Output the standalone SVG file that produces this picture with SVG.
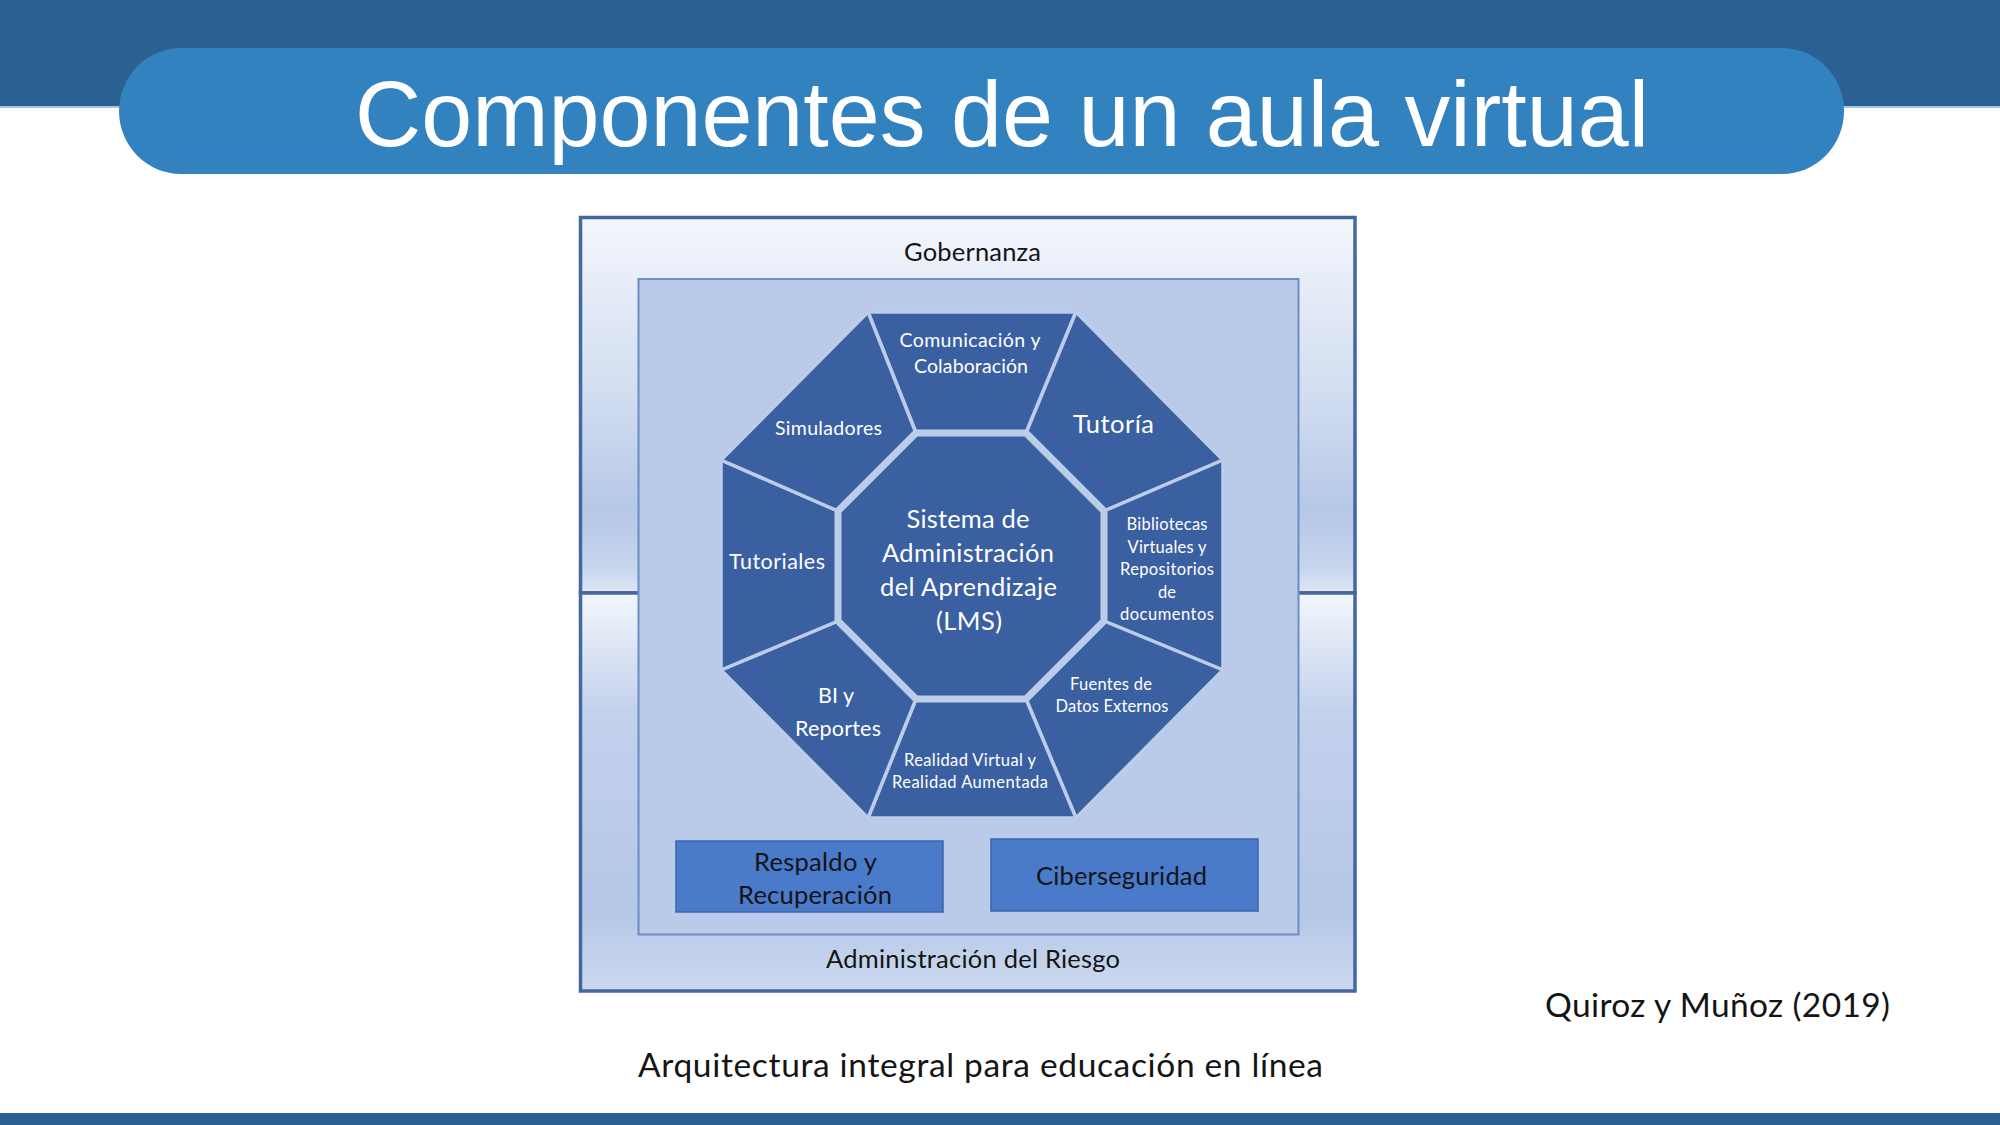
<svg xmlns="http://www.w3.org/2000/svg" width="2000" height="1125" viewBox="0 0 2000 1125">
<defs>
<linearGradient id="gTop" x1="0" y1="0" x2="0" y2="1">
<stop offset="0" stop-color="#f3f6fc"/>
<stop offset="0.45" stop-color="#d3def1"/>
<stop offset="0.78" stop-color="#b6c8e7"/>
<stop offset="0.93" stop-color="#c6d4ed"/>
<stop offset="1" stop-color="#dfe7f5"/>
</linearGradient>
<linearGradient id="gBot" x1="0" y1="0" x2="0" y2="1">
<stop offset="0" stop-color="#f3f6fc"/>
<stop offset="0.3" stop-color="#c2d1ec"/>
<stop offset="0.8" stop-color="#b5c7e7"/>
<stop offset="1" stop-color="#ccd9ef"/>
</linearGradient>
<style>
.seg{fill:#3a60a2;stroke:#bccdea;stroke-width:3.5;stroke-linejoin:round}
.core{fill:#3a60a2;stroke:#bccdea;stroke-width:7;stroke-linejoin:round}
.w{fill:#ffffff;font-family:Lato,"Open Sans","Liberation Sans",sans-serif;text-anchor:middle}
.k{fill:#141414;font-family:Lato,"Open Sans","Liberation Sans",sans-serif;text-anchor:middle}
.box{fill:#4a7aca;stroke:#3c66aa;stroke-width:1.5}
.frame{stroke:#44679f;stroke-width:3.5}
</style>
</defs>

<g id="header">
<rect x="0" y="0" width="2000" height="107" fill="#2a6192"/>
<rect x="0" y="106" width="2000" height="2" fill="#a9c4e0"/>
<rect x="119" y="48" width="1725" height="126" rx="62" ry="63" fill="#3382c0"/>
<text x="1002" y="146" font-family="'Liberation Sans',Arial,sans-serif" font-size="92" fill="#ffffff" text-anchor="middle" textLength="1294" lengthAdjust="spacingAndGlyphs">Componentes de un aula virtual</text>
</g>

<g id="footer-bar">
<rect x="0" y="1113" width="2000" height="12" fill="#2a6192"/>
</g>

<g id="gobernanza">
<rect class="frame" x="580.5" y="217.5" width="774.5" height="375.5" fill="url(#gTop)"/>
<text class="k" x="972.5" y="261" font-size="25.5" textLength="137">Gobernanza</text>
</g>

<g id="administracion-riesgo">
<rect class="frame" x="580.5" y="593" width="774.5" height="398" fill="url(#gBot)"/>
<text class="k" x="973" y="968" font-size="25.5" textLength="294">Administración del Riesgo</text>
</g>

<g id="inner-box">
<rect x="638.5" y="279" width="660" height="655.5" fill="#b9cbe9" stroke="#6c8cc3" stroke-width="2"/>
</g>

<g id="comunicacion">
<polygon class="seg" points="868,312 1076,312 1026,433 916,433"/>
<text class="w" x="970" y="347" font-size="19.5" textLength="141">Comunicación y</text>
<text class="w" x="971" y="373" font-size="19.5" textLength="114">Colaboración</text>
</g>

<g id="tutoria">
<polygon class="seg" points="1076,312 1223,460 1104,511 1026,433"/>
<text class="w" x="1113.5" y="433" font-size="25.5" textLength="81">Tutoría</text>
</g>

<g id="bibliotecas">
<polygon class="seg" points="1223,460 1223,670 1104,621 1104,511"/>
<text class="w" x="1167" y="530" font-size="16.5" textLength="81">Bibliotecas</text>
<text class="w" x="1167" y="552.5" font-size="16.5" textLength="79">Virtuales y</text>
<text class="w" x="1167" y="575" font-size="16.5" textLength="94">Repositorios</text>
<text class="w" x="1167" y="597.5" font-size="16.5">de</text>
<text class="w" x="1167" y="620" font-size="16.5" textLength="94">documentos</text>
</g>

<g id="fuentes">
<polygon class="seg" points="1223,670 1076,818 1026,699 1104,621"/>
<text class="w" x="1111" y="690" font-size="16.5" textLength="82">Fuentes de</text>
<text class="w" x="1112" y="712" font-size="16.5" textLength="113">Datos Externos</text>
</g>

<g id="realidad">
<polygon class="seg" points="1076,818 868,818 916,699 1026,699"/>
<text class="w" x="970" y="766" font-size="16.5" textLength="132">Realidad Virtual y</text>
<text class="w" x="970" y="788" font-size="16.5" textLength="156">Realidad Aumentada</text>
</g>

<g id="bi-reportes">
<polygon class="seg" points="868,818 721,670 838,621 916,699"/>
<text class="w" x="836" y="703" font-size="21.5" textLength="36">BI y</text>
<text class="w" x="838" y="736" font-size="21.5" textLength="86">Reportes</text>
</g>

<g id="tutoriales">
<polygon class="seg" points="721,670 721,460 838,511 838,621"/>
<text class="w" x="777" y="569" font-size="21.5" textLength="96">Tutoriales</text>
</g>

<g id="simuladores">
<polygon class="seg" points="721,460 868,312 916,433 838,511"/>
<text class="w" x="828.5" y="435" font-size="19.5" textLength="107">Simuladores</text>
</g>

<g id="lms">
<polygon class="core" points="916,433 1026,433 1104,511 1104,621 1026,699 916,699 838,621 838,511"/>
<text class="w" x="968" y="528" font-size="25.5" textLength="123">Sistema de</text>
<text class="w" x="968" y="562" font-size="25.5" textLength="172">Administración</text>
<text class="w" x="968.5" y="596" font-size="25.5" textLength="177">del Aprendizaje</text>
<text class="w" x="969" y="630" font-size="25.5" textLength="66">(LMS)</text>
</g>

<g id="respaldo">
<rect class="box" x="676" y="841" width="267" height="71"/>
<text class="k" x="815.5" y="871" font-size="25.5" textLength="123">Respaldo y</text>
<text class="k" x="815" y="904" font-size="25.5" textLength="154">Recuperación</text>
</g>

<g id="ciberseguridad">
<rect class="box" x="991" y="839" width="267" height="72"/>
<text class="k" x="1121.5" y="885" font-size="25.5" textLength="171">Ciberseguridad</text>
</g>

<g id="cita">
<text class="k" x="1717.5" y="1017" font-size="33.5" textLength="345">Quiroz y Muñoz (2019)</text>
</g>

<g id="caption">
<text class="k" x="980.5" y="1077" font-size="33.5" textLength="685">Arquitectura integral para educación en línea</text>
</g>
</svg>
